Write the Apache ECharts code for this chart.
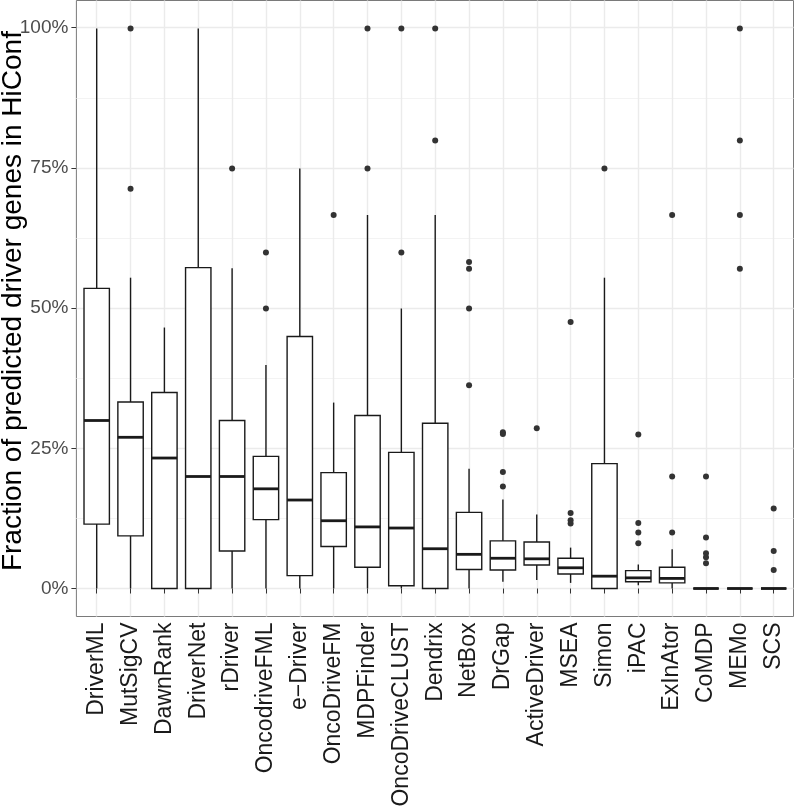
<!DOCTYPE html>
<html>
<head>
<meta charset="utf-8">
<script src="https://cdn.jsdelivr.net/npm/echarts@6/dist/echarts.min.js"></script>
<style>
html,body{margin:0;padding:0;background:#fff;}
#chart{width:794px;height:809px;}
</style>
</head>
<body>
<div id="chart"></div>
<script>
// ---- data (percent) ----
var categories = ['DriverML','MutSigCV','DawnRank','DriverNet','rDriver','OncodriveFML','e\u2212Driver','OncoDriveFM','MDPFinder','OncoDriveCLUST','Dendrix','NetBox','DrGap','ActiveDriver','MSEA','Simon','iPAC','ExInAtor','CoMDP','MEMo','SCS'];
var whiskerLow  = [0,   0,    0,    0,    0,    0,    0,    0,    0,    0,    0,    0,    1.2,  1.5,  1.0,  0,    0.6,  0,    0, 0, 0];
var q1          = [11.5,9.4,  0,    0,    6.7,  12.3, 2.3,  7.5,  3.8,  0.5,  0,    3.4,  3.3,  4.2,  2.6,  0,    1.2,  1.0,  0, 0, 0];
var median      = [30.0,27.0, 23.3, 20.0, 20.0, 17.8, 15.8, 12.1, 11.0, 10.8, 7.1,  6.1,  5.4,  5.3,  3.7,  2.2,  1.9,  1.8,  0, 0, 0];
var q3          = [53.6,33.3, 35.0, 57.3, 30.0, 23.6, 45.0, 20.7, 30.9, 24.3, 29.5, 13.6, 8.5,  8.3,  5.4,  22.3, 3.2,  3.8,  0, 0, 0];
var whiskerHigh = [100, 55.5, 46.6, 100,  57.2, 39.9, 75.0, 33.2, 66.7, 50.0, 66.7, 21.4, 15.9, 13.2, 7.3,  55.5, 4.3,  7.0,  0, 0, 0];
var outliers = [
  [],
  [71.4, 100],
  [],
  [],
  [75],
  [50, 60],
  [],
  [66.7],
  [75, 100],
  [60, 100],
  [80, 100],
  [36.3, 50, 57.1, 58.3],
  [18.2, 20.8, 27.6, 27.9],
  [28.6],
  [11.6, 12.2, 13.5, 47.6],
  [75],
  [8.1, 10.0, 11.7, 27.5],
  [10.0, 20.0, 66.7],
  [4.5, 5.6, 6.3, 9.1, 20],
  [57.1, 66.7, 80, 100],
  [3.3, 6.7, 14.3]
];
var yTicks = [0, 25, 50, 75, 100];

// ---- build ----
var boxData = categories.map(function(c, i){ return [i, whiskerLow[i], q1[i], median[i], q3[i], whiskerHigh[i]]; });
var outlierData = [];
outliers.forEach(function(arr, i){ arr.forEach(function(v){ outlierData.push([i, v]); }); });

var FONT = 'Liberation Sans, Arial, Helvetica, sans-serif';
var LINE = '#1a1a1a';

var chart = echarts.init(document.getElementById('chart'), null, {renderer:'canvas'});
chart.setOption({
  animation: false,
  backgroundColor: '#ffffff',
  grid: [
    // panel (border)
    {left: 76.4, right: 0.5, top: 0.5, bottom: 192.5, show: true, borderColor: '#7a7a7a', borderWidth: 1, backgroundColor: '#ffffff', containLabel: false, outerBoundsMode: 'none'},
    // horizontal gridlines + y labels
    {left: 76.4, right: 0.5, top: 27.7, bottom: 220.5, containLabel: false, outerBoundsMode: 'none'},
    // vertical gridlines + x labels + data
    {left: 96.7, right: 20.3, top: 0.5, bottom: 192.5, containLabel: false, outerBoundsMode: 'none'}
  ],
  xAxis: [
    {gridIndex: 0, type: 'value', min: 0, max: 1, show: false},
    {gridIndex: 1, type: 'value', min: 0, max: 1, show: false},
    {gridIndex: 2, type: 'value', min: 0, max: categories.length - 1, interval: 1,
      axisLine: {show: false},
      axisTick: {show: true, length: 5, lineStyle: {color: '#333333', width: 1}},
      splitLine: {show: true, lineStyle: {color: '#ebebeb', width: 1.4}},
      axisLabel: {show: true, rotate: 90, margin: 6, fontSize: 23, color: '#1a1a1a', fontFamily: FONT,
        showMinLabel: true, showMaxLabel: true,
        formatter: function(v){ return categories[Math.round(v)] || ''; }}
    }
  ],
  yAxis: [
    {gridIndex: 0, type: 'value', min: 0, max: 1, show: false},
    {gridIndex: 1, type: 'value', min: yTicks[0], max: yTicks[yTicks.length-1], interval: 25,
      axisLine: {show: false},
      axisTick: {show: true, length: 5, lineStyle: {color: '#333333', width: 1}},
      minorTick: {show: false, splitNumber: 2},
      minorSplitLine: {show: true, lineStyle: {color: '#f3f3f3', width: 1}},
      splitLine: {show: true, lineStyle: {color: '#ebebeb', width: 1.4}},
      axisLabel: {margin: 8, fontSize: 19, color: '#4d4d4d', fontFamily: FONT, align: 'right',
        formatter: function(v){ return v + '%'; }},
      name: 'Fraction of predicted driver genes in HiConf',
      nameLocation: 'middle', nameRotate: 90, nameGap: 49, nameMoveOverlap: false,
      nameTextStyle: {fontSize: 28, color: '#000000', fontFamily: FONT, padding: [0, 0, 0, 14]}
    },
    {gridIndex: 2, type: 'value', min: -5, max: 105, show: false}
  ],
  series: [
    {
      type: 'custom',
      xAxisIndex: 2, yAxisIndex: 2,
      data: boxData,
      dimensions: ['x','lo','q1','med','q3','hi'],
      encode: {x: 0, y: [1,2,3,4,5]},
      z: 5,
      renderItem: function(params, api){
        var x = api.value(0);
        var lo = api.coord([x, api.value(1)]);
        var b1 = api.coord([x, api.value(2)]);
        var md = api.coord([x, api.value(3)]);
        var b3 = api.coord([x, api.value(4)]);
        var hi = api.coord([x, api.value(5)]);
        var bw = api.size([1, 0])[0] * 0.75;
        var cx = lo[0];
        var ls = {stroke: LINE, lineWidth: 1.4, fill: null};
        return {type: 'group', children: [
          {type: 'line', shape: {x1: cx, y1: hi[1], x2: cx, y2: b3[1]}, style: ls},
          {type: 'line', shape: {x1: cx, y1: b1[1], x2: cx, y2: lo[1]}, style: ls},
          {type: 'rect', shape: {x: cx - bw/2, y: b3[1], width: bw, height: b1[1] - b3[1]}, style: {fill: '#ffffff', stroke: LINE, lineWidth: 1.4}},
          {type: 'line', shape: {x1: cx - bw/2, y1: md[1], x2: cx + bw/2, y2: md[1]}, style: {stroke: LINE, lineWidth: 2.8}}
        ]};
      }
    },
    {
      type: 'scatter',
      xAxisIndex: 2, yAxisIndex: 2,
      data: outlierData,
      symbol: 'circle',
      symbolSize: 6,
      itemStyle: {color: '#333333', opacity: 1},
      z: 6
    }
  ]
});
</script>
</body>
</html>
